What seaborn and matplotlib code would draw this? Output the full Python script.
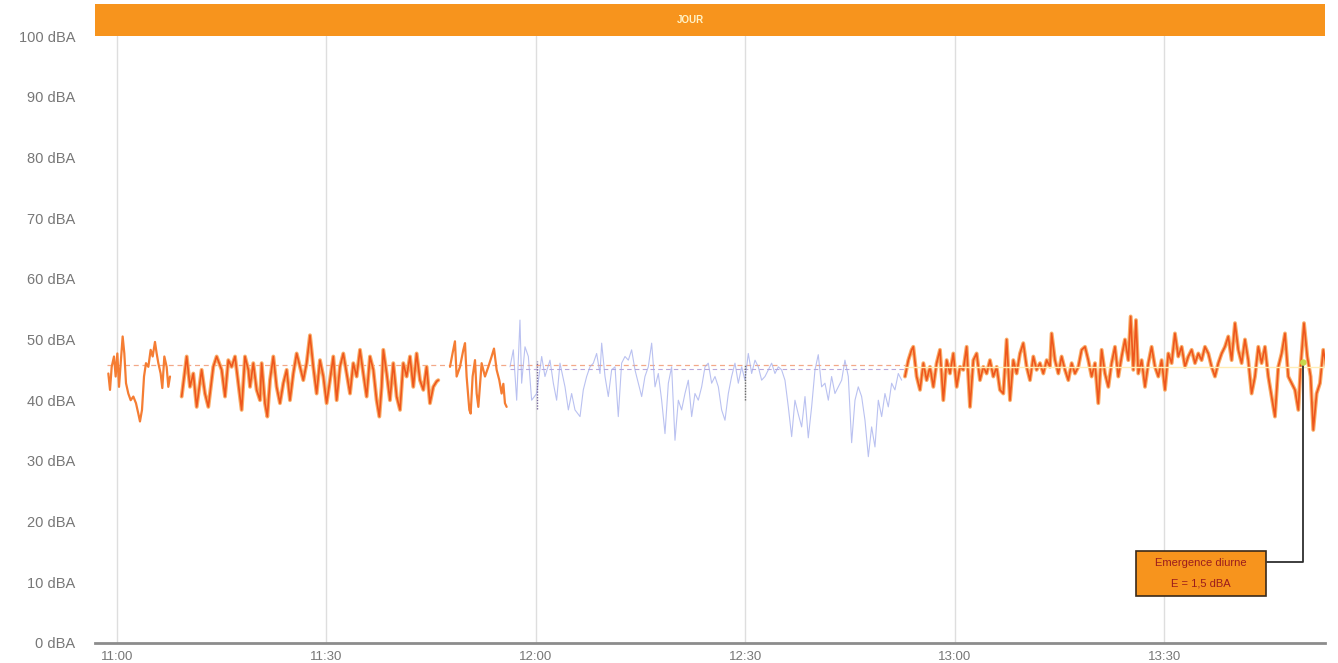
import matplotlib
matplotlib.use("Agg")
import matplotlib.pyplot as plt
from matplotlib.patches import Rectangle
import seaborn as sns
import pandas as pd

# ---------------- data (minutes after 11:00, level in dBA) ----------------
seg1_t = [-1.24, -1.0, -0.76, -0.43, -0.19, 0.05, 0.29, 0.53, 0.81, 1.05, 1.29, 1.62, 1.96, 2.34, 2.72, 3.05,
          3.29, 3.58, 3.87, 4.15, 4.49, 4.82, 5.11, 5.44, 5.68, 5.92, 6.25, 6.49, 6.78, 7.11, 7.35, 7.59]
seg1_v = [44.4, 41.7, 45.5, 47.2, 43.9, 47.7, 42.2, 46.1, 50.5, 47.7, 42.8, 41.1, 40.0, 40.6, 39.5, 37.8,
          36.5, 38.4, 43.9, 46.1, 45.5, 48.3, 47.2, 49.6, 47.7, 46.1, 44.4, 42.0, 47.2, 45.5, 42.2, 43.9]

seg2_t = [9.26, 9.98, 10.45, 10.93, 11.41, 12.12, 12.60, 13.08, 13.79, 14.27,
          14.99, 15.47, 15.94, 16.42, 16.90, 17.37, 17.85, 18.33, 18.81, 19.05,
          19.52, 20.00, 20.48, 20.72, 21.19, 21.53, 21.91, 22.39, 22.86, 23.34,
          23.82, 24.30, 24.77, 25.25, 25.73, 26.21, 26.68, 27.16, 27.64, 28.11,
          28.59, 29.07, 29.55, 30.02, 30.50, 30.98, 31.46, 31.93, 32.41, 32.89,
          33.37, 33.84, 34.32, 34.80, 35.27, 35.75, 36.23, 36.71, 37.18, 37.57,
          37.90, 38.14, 38.62, 39.09, 39.57, 40.05, 40.53, 41.00, 41.48, 41.96,
          42.43, 42.91, 43.39, 43.87, 44.34, 44.82, 45.30, 45.78, 46.01]
seg2_v = [40.6, 47.2, 42.2, 44.4, 38.9, 45.0, 41.1, 38.9, 45.5, 47.2,
          45.0, 40.6, 46.6, 45.5, 47.2, 42.8, 38.4, 47.2, 45.0, 42.2,
          46.1, 41.7, 40.0, 46.1, 39.5, 37.3, 43.3, 47.2, 42.2, 39.5,
          42.8, 45.0, 40.0, 44.4, 47.7, 45.5, 43.3, 46.1, 50.7, 45.5,
          41.1, 46.6, 43.9, 39.5, 43.3, 47.2, 40.0, 45.5, 47.7, 44.4,
          41.1, 46.1, 43.9, 48.3, 44.4, 40.6, 47.2, 45.0, 40.0, 37.3,
          42.2, 48.3, 44.4, 40.0, 46.1, 40.6, 38.4, 46.1, 43.9, 47.2,
          42.2, 47.7, 43.3, 41.7, 45.5, 39.5, 42.2, 43.1, 43.3]

seg3_t = [47.69, 48.07, 48.40, 48.64, 49.12, 49.60, 49.84, 50.07, 50.46, 50.65, 50.93, 51.27, 51.51,
          51.75, 52.22, 52.70, 53.18, 53.65, 53.99, 54.37, 54.75, 55.08, 55.33, 55.56, 55.80]
seg3_v = [45.5, 47.8, 49.7, 43.9, 45.5, 48.3, 49.4, 43.9, 38.4, 37.8, 43.9, 46.6, 41.1,
          38.9, 46.1, 43.9, 45.5, 47.2, 48.5, 45.0, 43.3, 41.1, 42.7, 39.5, 38.9]

blue_t = [56.28, 56.76, 57.24, 57.71, 57.95, 58.43, 58.91, 59.38, 60.10, 60.82, 61.29, 62.01, 62.49,
          62.96, 63.44, 64.16, 64.64, 65.11, 65.59, 66.31, 66.78, 67.26, 67.74, 68.22, 68.69, 69.17, 69.41,
          69.89, 70.36, 70.84, 71.32, 71.79, 72.27, 72.75, 73.23, 73.70, 74.18,
          74.66, 75.14, 75.61, 76.09, 76.57, 77.05, 77.52, 78.00, 78.48, 78.96,
          79.43, 79.91, 80.39, 80.86, 81.34, 81.82, 82.30, 82.77, 83.25, 83.73,
          84.21, 84.68, 85.16, 85.64, 86.12, 86.59, 87.07, 87.55, 88.02, 88.50,
          88.98, 89.46, 89.93, 90.41, 90.89, 91.37, 91.84, 92.32, 92.80, 93.28,
          93.75, 94.23, 94.71, 95.18, 95.66, 96.14, 96.62, 97.09, 97.57, 98.05,
          98.53, 99.00, 99.48, 99.96, 100.43, 100.91, 101.39, 101.87, 102.34, 102.82,
          103.30, 103.78, 104.25, 104.73, 105.21, 105.69, 106.16, 106.64, 107.12, 107.60,
          108.07, 108.55, 109.03, 109.51, 109.98, 110.46, 110.94, 111.41, 111.89, 112.37]
blue_v = [45.5, 48.3, 40.0, 53.2, 42.8, 48.8, 47.2, 40.0, 41.1, 47.2, 43.9, 46.6, 42.8,
          40.0, 46.1, 42.2, 38.4, 41.1, 38.4, 37.3, 41.7, 43.9, 45.5, 46.1, 47.7, 44.4, 49.4,
          43.9, 40.6, 45.0, 45.5, 37.3, 46.1, 47.2, 46.6, 48.3, 45.0,
          42.8, 40.6, 43.9, 45.5, 49.4, 42.2, 44.4, 40.0, 34.5, 42.8,
          45.5, 33.4, 40.0, 38.4, 41.1, 43.3, 37.3, 41.1, 40.0, 42.2,
          45.5, 46.1, 42.8, 43.9, 42.2, 38.4, 36.7, 41.1, 43.9, 46.1,
          42.8, 45.5, 43.3, 47.7, 44.4, 46.6, 45.5, 43.3, 43.9, 45.0,
          46.1, 44.4, 45.5, 45.0, 43.3, 38.9, 34.0, 40.0, 37.7, 35.6,
          40.6, 33.8, 38.9, 45.0, 47.5, 42.2, 42.8, 40.0, 43.9, 41.1,
          42.2, 43.3, 46.6, 43.9, 33.0, 40.0, 42.2, 40.6, 36.7, 30.7,
          35.6, 32.3, 40.0, 37.3, 41.1, 38.9, 42.8, 41.7, 44.4, 43.3]

seg4_t = [112.85, 113.33, 113.80, 114.04, 114.52, 115.00, 115.48, 115.95, 116.43, 116.91,
          117.38, 117.86, 118.34, 118.82, 119.29, 119.77, 120.25, 120.73, 121.20, 121.68,
          122.16, 122.64, 123.11, 123.59, 124.07, 124.54, 125.02, 125.50, 125.98, 126.45,
          126.93, 127.41, 127.89, 128.36, 128.84, 129.32, 129.79, 130.27, 130.75, 131.23,
          131.70, 132.18, 132.66, 133.14, 133.61, 133.85, 134.33, 134.81, 135.28, 135.76,
          136.24, 136.72, 137.19, 137.67, 138.15, 138.63, 139.10, 139.58, 140.06, 140.53,
          141.01, 141.49, 141.97, 142.44, 142.92, 143.40, 143.88, 144.35, 144.83, 145.17,
          145.55, 145.93, 146.26, 146.74, 147.22, 147.70, 148.17, 148.65, 149.13, 149.60,
          150.08, 150.56, 151.04, 151.51, 151.99, 152.47, 152.95, 153.42, 153.90, 154.38,
          154.86, 155.33, 155.81, 156.29, 156.76, 157.24, 157.72, 158.20, 158.67, 159.15,
          159.63, 160.11, 160.58, 161.06, 161.54, 162.01, 162.49, 162.97, 163.45, 163.92,
          164.40, 164.88, 165.36, 165.83, 166.31, 166.79, 167.27, 167.74, 168.22, 168.70,
          169.18, 169.51, 169.99, 170.46, 170.94, 171.32, 171.80, 172.28, 172.75, 173.23]
seg4_v = [43.9, 46.6, 48.3, 48.8, 43.9, 41.7, 46.1, 43.3, 45.5, 42.2,
          46.1, 48.3, 40.0, 46.6, 44.4, 47.7, 42.2, 45.5, 45.0, 48.8,
          38.9, 46.6, 47.7, 43.3, 45.5, 44.4, 46.6, 43.9, 45.5, 41.7,
          41.1, 50.0, 40.0, 46.6, 44.4, 47.7, 49.4, 45.5, 43.3, 47.2,
          45.0, 46.1, 44.4, 46.6, 45.5, 51.0, 46.6, 44.4, 47.2, 45.0,
          43.3, 46.1, 44.4, 45.5, 48.3, 48.8, 46.6, 43.9, 46.1, 39.5,
          48.3, 44.4, 42.2, 46.1, 48.8, 43.9, 47.2, 50.0, 46.6, 53.8,
          45.0, 53.2, 44.4, 46.6, 42.2, 46.1, 48.8, 45.5, 43.9, 46.6,
          41.7, 47.7, 46.1, 51.0, 47.2, 48.8, 45.5, 47.2, 48.3, 46.1,
          47.7, 46.6, 48.8, 47.7, 45.5, 43.9, 46.1, 47.7, 48.8, 50.5,
          46.6, 52.7, 48.3, 46.1, 50.0, 46.6, 41.1, 43.9, 48.8, 46.1,
          48.8, 43.9, 40.6, 37.3, 45.5, 47.7, 51.0, 43.9, 42.8, 41.7,
          38.4, 45.5, 52.7, 47.2, 43.9, 35.1, 41.1, 42.8, 48.3, 45.5]

ref_level = 45.8          # dashed reference level
emergence_t = 169.9
emergence_v = 46.2
emergence_text = ["Emergence diurne", "E = 1,5 dBA"]
period_label = "JOUR"

y_ticks = list(range(0, 101, 10))
y_labels = [f"{v} dBA" for v in y_ticks]
x_ticks = [0, 30, 60, 90, 120, 150]
x_labels = ["11:00", "11:30", "12:00", "12:30", "13:00", "13:30"]

# ---------------- style ----------------
sns.set_theme(style="white")
plt.rcParams["font.family"] = ["Liberation Sans", "DejaVu Sans"]

fig = plt.figure(figsize=(13.38, 6.63), dpi=100)
ax = fig.add_axes([95 / 1338, 20 / 663, 1230 / 1338, 607 / 663])

ORANGE_HALO = "#F9AE6A"
ORANGE_CORE = "#EE561C"
ORANGE_LIGHT = "#F57D33"
BLUE = "#A3ADEC"

# reference dashed levels
ax.plot([-1.5, 112.85], [ref_level, ref_level], color="#F3A888", lw=0.9, ls=(0, (4, 3)), zorder=1)
ax.plot([56.3, 112.8], [ref_level - 0.6, ref_level - 0.6], color="#B9A8DA", lw=0.8, ls=(0, (4, 3)), zorder=1)

df1 = pd.DataFrame({"t": seg1_t, "dBA": seg1_v})
df2 = pd.DataFrame({"t": seg2_t, "dBA": seg2_v})
df3 = pd.DataFrame({"t": seg3_t, "dBA": seg3_v})
dfb = pd.DataFrame({"t": blue_t, "dBA": blue_v})
df4 = pd.DataFrame({"t": seg4_t, "dBA": seg4_v})

sns.lineplot(data=dfb, x="t", y="dBA", ax=ax, color=BLUE, lw=0.8, alpha=0.75, zorder=2)
for d in (df2, df4):
    sns.lineplot(data=d, x="t", y="dBA", ax=ax, color=ORANGE_HALO, lw=2.8, zorder=3)
    sns.lineplot(data=d, x="t", y="dBA", ax=ax, color=ORANGE_CORE, lw=1.2, zorder=4)
for d in (df1, df3):
    sns.lineplot(data=d, x="t", y="dBA", ax=ax, color=ORANGE_LIGHT, lw=1.6, zorder=4)

# light level line over the last segment
ax.plot([112.85, 173.0], [ref_level - 0.3, ref_level - 0.3], color="#FFEDB5", lw=1.0, zorder=5)

# small markers at 12:00 and 12:30
ax.plot([60.1, 60.1], [38.5, 46.5], color="#7A6A9E", lw=1.0, ls=(0, (1, 1)), zorder=5)
ax.plot([90.0, 90.0], [40.0, 46.0], color="#6A6A6A", lw=1.0, ls=(0, (1, 1)), zorder=5)

# axes
ax.set_xlim(-3.15, 173.0)
ax.set_ylim(0, 100)
ax.set_xticks(x_ticks)
ax.set_xticklabels(x_labels)
ax.set_yticks(y_ticks)
ax.set_yticklabels(y_labels)
ax.set_xlabel("")
ax.set_ylabel("")
ax.tick_params(axis="y", length=0, pad=14, labelsize=10.5, labelcolor="#777777")
ax.tick_params(axis="x", length=0, pad=6, labelsize=9.5, labelcolor="#777777")
ax.grid(axis="x", color="#DEDEDE", lw=1.0)
ax.grid(axis="y", visible=False)
for s in ("left", "right", "top"):
    ax.spines[s].set_visible(False)
ax.spines["bottom"].set_color("#8C8C8C")
ax.spines["bottom"].set_linewidth(2.0)

# period band on top
ax.add_patch(Rectangle((0, 1.0), 1, 0.052, transform=ax.transAxes, clip_on=False,
                       facecolor="#F7941D", edgecolor="none", zorder=6))
ax.text(0.484, 1.026, period_label, transform=ax.transAxes, ha="center", va="center",
        fontsize=7, color="#FFF3C8", fontweight="bold", zorder=7)

# emergence annotation
ax.scatter([emergence_t], [emergence_v], s=22, color="#C8D84C", zorder=8, edgecolor="none")
ax.plot([emergence_t, emergence_t, 164.7], [emergence_v, 13.3, 13.3], color="#2E2E2E", lw=1.3, zorder=7)
ax.add_patch(Rectangle((145.9, 7.7), 18.7, 7.5, facecolor="#F7941D", edgecolor="#3A2A1A",
                       lw=1.2, zorder=7))
ax.text(155.25, 13.1, emergence_text[0], ha="center", va="center", fontsize=8, color="#9B1C1C", zorder=8)
ax.text(155.25, 9.8, emergence_text[1], ha="center", va="center", fontsize=8, color="#9B1C1C", zorder=8)

fig.savefig("out.png", dpi=100)
